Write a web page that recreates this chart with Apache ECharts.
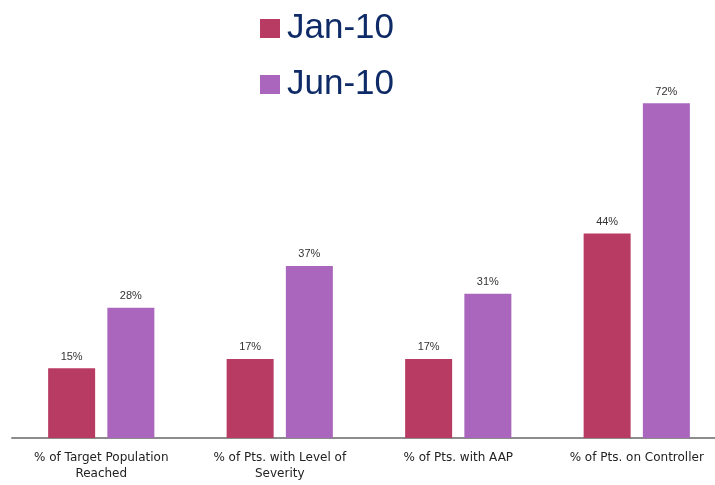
<!DOCTYPE html>
<html>
<head>
<meta charset="utf-8">
<script src="https://cdn.jsdelivr.net/npm/echarts@6/dist/echarts.min.js"></script>
<style>
  html, body { margin: 0; padding: 0; background: #fff; overflow: hidden; }
  /* the plot area runs past the right edge of the picture */
  #chart { width: 730px; height: 485px; }
</style>
</head>
<body>
<div id="chart"></div>
<script>
// data
var categories = [
  '% of Target Population\nReached',
  '% of Pts. with Level of\nSeverity',
  '% of Pts. with AAP',
  '% of Pts. on Controller'
];
var jan10 = [15, 17, 17, 44];
var jun10 = [28, 37, 31, 72];

var chart = echarts.init(document.getElementById('chart'));

chart.setOption({
  animation: false,
  textStyle: { fontFamily: 'Liberation Sans, Arial, sans-serif' },
  legend: {
    orient: 'vertical',
    left: 255,
    top: 6,
    itemWidth: 20,
    itemHeight: 19,
    itemGap: 21,
    icon: 'rect',
    textStyle: { fontSize: 35, color: '#0E2B68', padding: [0, 0, 0, 2] },
    data: ['Jan-10', 'Jun-10']
  },
  grid: {
    left: 12,
    right: 4,
    top: 66,
    bottom: 47
  },
  xAxis: {
    type: 'category',
    data: categories,
    axisLine: { lineStyle: { color: '#8C8C8C', width: 2 } },
    axisTick: { show: false },
    axisLabel: {
      color: '#222',
      fontFamily: 'DejaVu Sans',
      fontSize: 12,
      lineHeight: 16,
      margin: 12,
      interval: 0
    }
  },
  yAxis: {
    type: 'value',
    min: 0,
    max: 80,
    show: false
  },
  series: [
    {
      name: 'Jan-10',
      type: 'bar',
      data: jan10,
      barWidth: 47,
      barGap: '26%',
      itemStyle: { color: '#B83B63' },
      label: {
        show: true,
        position: 'top',
        distance: 6,
        formatter: '{c}%',
        fontSize: 11,
        color: '#333'
      }
    },
    {
      name: 'Jun-10',
      type: 'bar',
      data: jun10,
      barWidth: 47,
      barGap: '26%',
      itemStyle: { color: '#AA66BC' },
      label: {
        show: true,
        position: 'top',
        distance: 6,
        formatter: '{c}%',
        fontSize: 11,
        color: '#333'
      }
    }
  ]
});
</script>
</body>
</html>
